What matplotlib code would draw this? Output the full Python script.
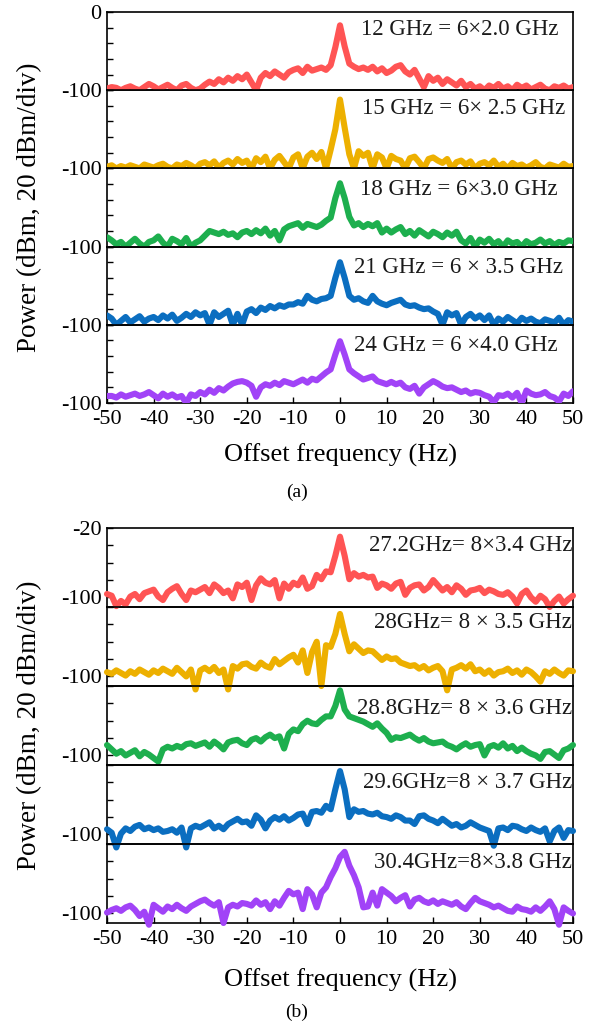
import numpy as np
import matplotlib
matplotlib.use("Agg")
import matplotlib.pyplot as plt

plt.rcParams['font.family'] = ['Liberation Serif', 'DejaVu Serif']
plt.rcParams['axes.unicode_minus'] = False

RED, GOLD, GREEN, BLUE, PURPLE = "#FF5454", "#EDB000", "#1DAF4E", "#0B6EC0", "#A143F7"
COLORS = [RED, GOLD, GREEN, BLUE, PURPLE]

# offset frequency grid (Hz), 1 Hz steps from -50 to 50
freq = np.arange(-50, 51)

# ---- panel (a): 6th harmonic ----
labels_a = ["12 GHz = 6\u00d72.0 GHz", "15 GHz = 6\u00d7 2.5 GHz", "18 GHz = 6\u00d73.0 GHz",
            "21 GHz = 6 \u00d7 3.5 GHz", "24 GHz = 6 \u00d74.0 GHz"]
a_12 = [-98, -96, -97, -100, -97, -95, -98, -100, -96, -92,
        -95, -99, -96, -93, -97, -100, -94, -92, -97, -100,
        -98, -93, -89, -92, -86, -90, -84, -88, -82, -86,
        -80, -90, -100, -84, -78, -82, -76, -80, -84, -77,
        -74, -72, -78, -70, -75, -73, -71, -74, -68, -45,
        -17,
        -44, -66, -70, -73, -71, -74, -70, -76, -72, -78,
        -75, -70, -68, -76, -80, -74, -85, -96, -82, -88,
        -84, -92, -86, -90, -94, -88, -96, -92, -98, -95,
        -100, -94, -97, -92, -98, -95, -100, -93, -97, -94,
        -99, -96, -93, -98, -100, -95, -97, -94, -98, -96]
a_15 = [-98, -96, -100, -97, -99, -96, -98, -100, -95, -97,
        -99, -96, -94, -98, -100, -95, -97, -93, -96, -100,
        -94, -92, -96, -91, -99, -93, -90, -95, -88, -93,
        -90, -100, -87, -92, -85, -100, -89, -84, -92, -100,
        -86, -82, -100, -85, -80, -88, -79, -100, -76, -50,
        -12,
        -48, -82, -100, -78, -84, -80, -100, -82, -86, -100,
        -84, -88, -90, -100, -87, -85, -92, -100, -88, -86,
        -90, -93, -88, -100, -92, -90, -95, -91, -100, -94,
        -92, -96, -90, -98, -94, -100, -93, -97, -95, -99,
        -96, -92, -98, -100, -95, -97, -99, -94, -98, -97]
a_18 = [-88, -92, -97, -94, -100, -95, -90, -96, -100, -94,
        -92, -87, -95, -100, -90, -93, -97, -89, -100, -95,
        -92, -86, -80, -82, -84, -81, -85, -83, -88, -82,
        -80, -84, -79, -83, -77, -86, -80, -92, -78, -74,
        -72, -70, -76, -71, -73, -75, -72, -67, -63, -38,
        -19,
        -38, -62, -73, -70, -75, -71, -74, -70, -82, -77,
        -82, -78, -75, -84, -80, -86, -79, -83, -87, -81,
        -84, -88, -82, -86, -81, -92, -96, -89, -100, -91,
        -95, -90, -97, -93, -100, -92, -96, -94, -100, -93,
        -97, -95, -91, -96, -93, -98, -94, -96, -92, -93]
a_21 = [-88, -92, -100, -95, -90, -97, -93, -89, -96, -92,
        -90, -94, -88, -92, -87, -95, -91, -86, -90, -84,
        -88, -85, -100, -84, -90, -86, -82, -100, -86, -100,
        -83, -80, -85, -78, -81, -76, -79, -75, -77, -74,
        -74, -71, -73, -63, -68, -70, -67, -66, -63, -40,
        -20,
        -40, -63, -68, -66, -70, -72, -63, -70, -73, -75,
        -72, -70, -68, -74, -76, -75, -78, -80, -79, -83,
        -86, -100, -84, -88, -85, -100, -90, -86, -92, -88,
        -94, -88, -100, -92, -96, -90, -94, -98, -91, -95,
        -92, -96, -98, -93, -95, -97, -91, -100, -94, -96]
a_24 = [-91, -91, -93, -89, -92, -90, -88, -91, -89, -86,
        -90, -94, -88, -92, -89, -93, -91, -100, -89, -91,
        -86, -89, -83, -87, -81, -84, -79, -75, -73, -72,
        -74, -78, -92, -80, -76, -78, -74, -77, -72, -74,
        -76, -73, -70, -74, -69, -71, -66, -61, -57, -38,
        -21,
        -38, -57, -62, -66, -70, -68, -66, -72, -74, -76,
        -73, -76, -74, -80, -82, -78, -88, -80, -76, -72,
        -75, -79, -81, -80, -83, -86, -84, -88, -86, -87,
        -90, -92, -99, -90, -91, -88, -93, -87, -100, -84,
        -88, -90, -89, -86, -91, -93, -98, -88, -91, -85]

# ---- panel (b): 8th harmonic ----
labels_b = ["27.2GHz= 8\u00d73.4 GHz", "28GHz= 8 \u00d7 3.5 GHz", "28.8GHz= 8 \u00d7 3.6 GHz",
            "29.6GHz=8 \u00d7 3.7 GHz", "30.4GHz=8\u00d73.8 GHz"]
b_272 = [-96, -98, -110, -104, -108, -99, -96, -102, -95, -93,
         -91, -99, -103, -94, -90, -87, -96, -103, -92, -94,
         -91, -88, -95, -85, -89, -95, -92, -101, -85, -88,
         -83, -103, -86, -78, -83, -85, -80, -101, -84, -90,
         -83, -86, -77, -90, -87, -74, -79, -70, -71, -52,
         -30,
         -52, -79, -72, -76, -74, -77, -76, -89, -84, -86,
         -90, -84, -82, -97, -89, -86, -85, -92, -88, -80,
         -86, -92, -88, -94, -86, -90, -97, -92, -91, -89,
         -95, -91, -93, -96, -97, -94, -99, -107, -96, -92,
         -100, -105, -98, -102, -111, -104, -99, -107, -102, -98]
b_280 = [-95, -97, -93, -96, -99, -94, -97, -92, -95, -98,
         -93, -96, -91, -94, -97, -90, -95, -100, -92, -115,
         -93, -90, -94, -89, -96, -92, -115, -88, -91, -86,
         -85, -89, -91, -84, -88, -90, -80, -86, -82, -78,
         -75, -84, -70, -96, -72, -60, -111, -64, -66, -51,
         -28,
         -51, -71, -63, -68, -73, -70, -71, -76, -81, -77,
         -80, -79, -84, -86, -88, -87, -91, -88, -93, -90,
         -88, -94, -116, -92, -90, -87, -91, -86, -94, -92,
         -97, -93, -99, -95, -94, -91, -96, -93, -98, -92,
         -95, -100, -106, -94, -97, -92, -96, -99, -93, -94]
b_288 = [-88, -93, -98, -95, -100, -97, -94, -101, -96, -99,
         -103, -107, -93, -90, -92, -89, -91, -87, -86, -89,
         -87, -85, -90, -84, -88, -93, -85, -83, -82, -86,
         -88, -82, -80, -84, -79, -76, -80, -78, -92, -75,
         -70, -72, -64, -60, -63, -64, -59, -55, -55, -43,
         -25,
         -47, -55, -57, -59, -61, -64, -67, -63, -69, -74,
         -82, -79, -80, -78, -76, -80, -83, -80, -84, -86,
         -85, -84, -88, -90, -93, -89, -86, -90, -88, -87,
         -100, -90, -88, -91, -86, -92, -89, -95, -91, -95,
         -98, -100, -104, -96, -95, -99, -103, -94, -92, -88]
b_296 = [-94, -98, -115, -99, -93, -96, -91, -89, -94, -92,
         -95, -93, -97, -96, -94, -98, -92, -115, -93, -90,
         -92, -89, -86, -93, -90, -94, -88, -85, -82, -86,
         -85, -90, -78, -83, -93, -84, -80, -83, -79, -84,
         -81, -77, -76, -88, -74, -73, -75, -67, -71, -48,
         -27,
         -48, -80, -71, -74, -73, -76, -77, -75, -79, -80,
         -82, -78, -80, -84, -84, -88, -79, -78, -82, -84,
         -87, -82, -86, -90, -88, -92, -90, -86, -89, -92,
         -94, -96, -113, -93, -92, -95, -90, -91, -94, -96,
         -92, -95, -97, -93, -108, -96, -92, -104, -95, -96]
b_304 = [-99, -96, -94, -97, -93, -91, -96, -103, -98, -113,
         -90, -94, -98, -92, -95, -90, -94, -97, -92, -89,
         -86, -84, -88, -91, -87, -111, -93, -90, -92, -88,
         -89, -91, -85, -90, -87, -95, -86, -91, -82, -74,
         -78, -76, -95, -72, -78, -93, -76, -70, -58, -48,
         -35,
         -29, -45, -56, -70, -93, -92, -76, -91, -72, -76,
         -80, -86, -82, -79, -92, -84, -82, -86, -88, -85,
         -89, -86, -88, -90, -87, -92, -95, -88, -82, -86,
         -88, -90, -93, -91, -94, -97, -98, -92, -95, -96,
         -98, -93, -97, -92, -86, -95, -113, -93, -97, -100]

traces_a = [a_12, a_15, a_18, a_21, a_24]
traces_b = [b_272, b_280, b_288, b_296, b_304]

fig = plt.figure(figsize=(5.95, 10.25), dpi=100)
W, H = 595.0, 1025.0
LEFT, RIGHT = 107 / W, 573 / W


def panel(top_px, bot_px, traces, labels, ylim, yticks, top_lab, bot_lab,
          text_pos, clip, tag, xlab_px, tag_px):
    n = len(traces)
    h = (bot_px - top_px) / n
    for i, (y, lab, col) in enumerate(zip(traces, labels, COLORS)):
        y0 = 1 - (top_px + (i + 1) * h) / H
        ax = fig.add_axes([LEFT, y0, RIGHT - LEFT, h / H])
        ax.set_facecolor("none")
        ax.plot(freq, y, color=col, lw=4.4, solid_joinstyle="round",
                solid_capstyle="round", clip_on=clip, zorder=3)
        ax.set_xlim(-50, 50)
        ax.set_ylim(*ylim)
        ax.set_yticks(yticks)
        tl = [""] * len(yticks)
        tl[0] = bot_lab
        if i == 0:
            tl[-1] = top_lab
        ax.set_yticklabels(tl)
        ax.tick_params(axis="y", direction="in", length=4, width=1, labelsize=16, pad=4)
        ax.tick_params(axis="x", direction="in", length=4, width=1, labelsize=16, pad=5)
        ax.set_xticks(np.arange(-50, 51, 10))
        if i < n - 1:
            ax.tick_params(axis="x", labelbottom=False, length=0)
        for sp in ax.spines.values():
            sp.set_linewidth(1.2)
        tx, ty = text_pos[i]
        ax.text(tx, ty, lab, transform=ax.transAxes, ha="right", va="center",
                fontsize=16.5, color="#1a1a1a", zorder=4)
    fig.text((LEFT + RIGHT) / 2, 1 - xlab_px / H, "Offset frequency (Hz)",
             ha="center", va="center", fontsize=19)
    fig.text(30 / W, 1 - (top_px + bot_px) / 2 / H, "Power (dBm, 20 dBm/div)",
             rotation=90, ha="center", va="center", fontsize=19.5)
    fig.text(297 / W, 1 - tag_px / H, tag, ha="center", va="center", fontsize=14)


pos_a = [(0.968, 0.77), (0.983, 0.77), (0.966, 0.73), (0.979, 0.73), (0.968, 0.74)]
pos_b = [(0.998, 0.78), (0.998, 0.81), (0.998, 0.71), (0.998, 0.78), (0.998, 0.77)]

panel(12, 403, traces_a, labels_a, (-100, 0), [-100, -80, -60, -40, -20, 0], "0", "-100",
      pos_a, True, "(a)", 455, 492)
panel(528, 923, traces_b, labels_b, (-111, -20), [-100, -80, -60, -40, -20], "-20", "-100",
      pos_b, False, "(b)", 980, 1012)

fig.savefig("out.png", dpi=100)
